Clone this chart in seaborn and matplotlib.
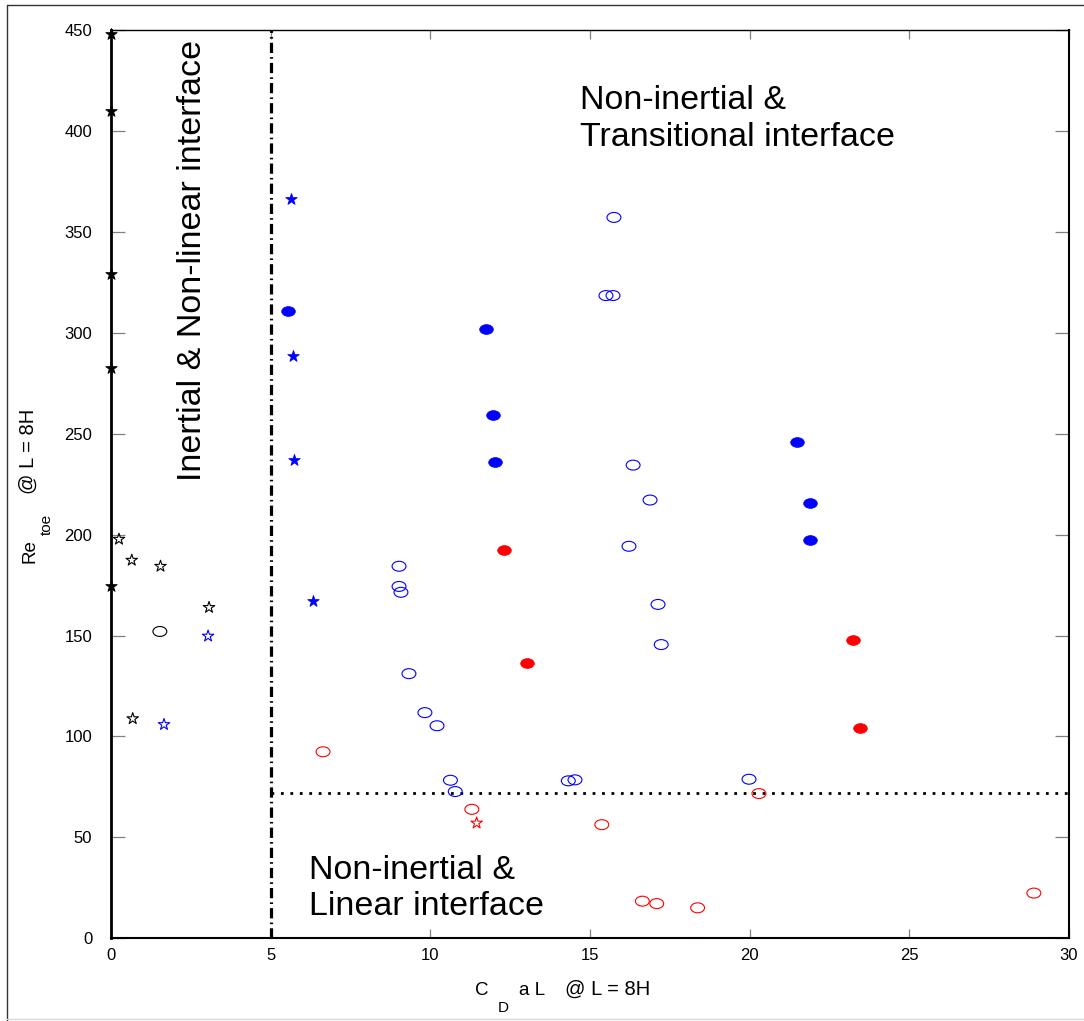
import numpy as np
import pandas as pd
import matplotlib
matplotlib.use("Agg")
import matplotlib.pyplot as plt
from matplotlib.path import Path
from matplotlib.lines import Line2D
import seaborn as sns

# ---- data -------------------------------------------------------------
# black filled stars on the y axis
blk_fill_star_x = [0, 0, 0, 0, 0]
blk_fill_star_y = [448, 410, 329, 282.5, 174.5]
# black open stars
blk_open_star_x = [0.25, 0.65, 1.55, 3.07, 0.68]
blk_open_star_y = [197.7, 187.3, 184.3, 163.9, 108.8]
# black open circle
blk_open_circ_x = [1.53]
blk_open_circ_y = [152.0]
# blue open stars
blu_open_star_x = [3.04, 1.66]
blu_open_star_y = [149.7, 105.9]
# blue filled stars
blu_fill_star_x = [5.63, 5.71, 5.73, 6.33]
blu_fill_star_y = [366.2, 288.4, 236.9, 166.9]
# blue filled circles
blu_fill_circ_x = [5.54, 11.75, 11.96, 12.03, 21.48, 21.89, 21.89]
blu_fill_circ_y = [310.8, 301.8, 259.1, 235.9, 245.9, 215.6, 197.2]
# red filled circles
red_fill_circ_x = [12.31, 13.03, 23.24, 23.46]
red_fill_circ_y = [192.2, 136.6, 148.0, 104.3]
# blue open circles
blu_open_circ_x = [15.75, 15.50, 15.72, 16.35, 16.88, 16.22, 9.02, 9.02, 9.08,
                   17.13, 17.23, 9.33, 9.83, 10.21, 10.63, 10.78, 14.32, 14.53,
                   19.98]
blu_open_circ_y = [357.1, 318.4, 318.4, 234.4, 217.1, 194.2, 184.3, 174.3, 171.4,
                   165.4, 145.5, 131.1, 111.8, 105.3, 78.3, 72.7, 78.0, 78.5,
                   78.8]
# red open circles
red_open_circ_x = [6.64, 11.30, 15.37, 20.29, 16.64, 17.09, 18.37, 28.90]
red_open_circ_y = [92.4, 63.9, 56.3, 71.7, 18.4, 17.2, 15.1, 22.4]
# red open star
red_open_star_x = [11.45]
red_open_star_y = [57.1]

# regime boundaries
cd_boundary = 5.0
re_boundary = 72.0

x_ticks = [0, 5, 10, 15, 20, 25, 30]
y_ticks = [0, 50, 100, 150, 200, 250, 300, 350, 400, 450]

# ---- style ------------------------------------------------------------
sns.set_theme(style="white")
plt.rcParams["font.family"] = ["Liberation Sans", "DejaVu Sans"]
plt.rcParams["text.color"] = "black"
plt.rcParams["axes.labelcolor"] = "black"

W, H = 1084, 1021
fig = plt.figure(figsize=(W / 100, H / 100), dpi=100)
fig.patch.set_facecolor("white")

x0px, x1px, y0px, y1px = 111, 1069, 938.3, 29.9
ax = fig.add_axes([x0px / W, 1 - y0px / H, (x1px - x0px) / W, (y0px - y1px) / H])
ax.set_facecolor("white")

# elliptical circle marker
circ = Path.unit_circle()
ellipse = Path(circ.vertices * np.array([1.4, 1.0]), circ.codes)

def pts(x, y):
    return pd.DataFrame({"x": x, "y": y})

# regime boundary lines
ax.axvline(cd_boundary, color="black", lw=2.3, dashes=(3.2, 1.3, 0.5, 1.3), zorder=1)
ax.plot([cd_boundary, 30], [re_boundary, re_boundary], color="black", lw=2.0,
        dashes=(1.0, 2.4), zorder=1)

groups = [
    (blk_fill_star_x, blk_fill_star_y, "*", "black", "black", 75, 0.6),
    (blk_open_star_x, blk_open_star_y, "*", "none", "black", 75, 0.8),
    (blk_open_circ_x, blk_open_circ_y, ellipse, "none", "black", 100, 0.8),
    (blu_open_star_x, blu_open_star_y, "*", "none", "blue", 75, 0.8),
    (blu_fill_star_x, blu_fill_star_y, "*", "blue", "blue", 75, 0.6),
    (blu_fill_circ_x, blu_fill_circ_y, ellipse, "blue", "blue", 95, 0.6),
    (red_fill_circ_x, red_fill_circ_y, ellipse, "red", "red", 95, 0.6),
    (blu_open_circ_x, blu_open_circ_y, ellipse, "none", "blue", 100, 0.8),
    (red_open_circ_x, red_open_circ_y, ellipse, "none", "red", 100, 0.8),
    (red_open_star_x, red_open_star_y, "*", "none", "red", 75, 0.8),
]
for gx, gy, mk, fc, ec, s, lw in groups:
    sns.scatterplot(data=pts(gx, gy), x="x", y="y", marker=mk, s=s,
                    facecolor=fc, edgecolor=ec, linewidth=lw, ax=ax,
                    legend=False, zorder=3, clip_on=False)

ax.set_xlim(0, 30)
ax.set_ylim(0, 450)
ax.set_xticks(x_ticks)
ax.set_yticks(y_ticks)
ax.set_xlabel("")
ax.set_ylabel("")

ax.tick_params(axis="x", direction="in", length=6.5, width=0.9, color="#808080",
               top=True, bottom=True, labelsize=12, pad=7, labelcolor="black")
ax.tick_params(axis="y", direction="in", length=10, width=0.9, color="#808080",
               left=True, right=True, labelsize=12, pad=13.5, labelcolor="black")
for side, lw in [("left", 2.0), ("bottom", 1.5), ("right", 1.5), ("top", 1.0)]:
    ax.spines[side].set_visible(True)
    ax.spines[side].set_color("black")
    ax.spines[side].set_linewidth(lw)
ax.grid(False)

# regime labels
ax.text(14.69, 410.7, "Non-inertial &", fontsize=24.5, ha="left", va="baseline")
ax.text(14.69, 392.5, "Transitional interface", fontsize=24.5, ha="left", va="baseline")
ax.text(6.21, 29.4, "Non-inertial &", fontsize=24.5, ha="left", va="baseline")
ax.text(6.21, 11.5, "Linear interface", fontsize=24.5, ha="left", va="baseline")
ax.text(2.81, 226.7, "Inertial & Non-linear interface", fontsize=24.5, rotation=90,
        rotation_mode="anchor", ha="left", va="baseline")

# axis titles built from pieces (subscripts offset as in the typeset labels)
def ftext(px, py, s, size, rot=0):
    fig.text(px / W, 1 - py / H, s, fontsize=size, rotation=rot,
             rotation_mode="anchor", ha="left", va="baseline")

ftext(475, 995, "C", 13.5)
ftext(498, 1012, "D", 11)
ftext(519, 995, "a L", 13.5)
ftext(565, 995, "@ L = 8H", 14.5)

ftext(34, 563, "Re", 13.5, 90)
ftext(51, 535, "toe", 11, 90)
ftext(34, 494, "@ L = 8H", 14.5, 90)

# outer frame
fig.add_artist(Line2D([7.3 / W, 7.3 / W], [0, 1 - 5.3 / H], color="#333333", lw=1.0,
                      transform=fig.transFigure))
fig.add_artist(Line2D([7.3 / W, 1], [1 - 5.3 / H, 1 - 5.3 / H], color="#333333", lw=1.0,
                      transform=fig.transFigure))
fig.add_artist(Line2D([7.3 / W, 1], [1.8 / H, 1.8 / H], color="#d8d8d8", lw=1.0,
                      transform=fig.transFigure))

fig.savefig("out.png", dpi=100)
